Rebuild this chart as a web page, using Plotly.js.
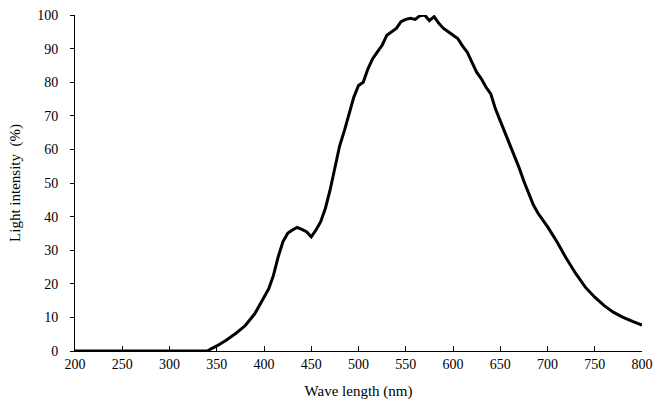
<!DOCTYPE html>
<html>
<head>
<meta charset="utf-8">
<script src="https://cdn.plot.ly/plotly-3.0.1.min.js"></script>
<style>
  html, body { margin: 0; padding: 0; background: #fff; }
  #chart { width: 660px; height: 404px; }
</style>
</head>
<body>
<div id="chart"></div>
<script>
const wavelength = [200, 250, 300, 340, 345, 350, 360, 370, 380, 390, 400, 405, 410, 415, 420, 425, 430, 435, 440, 445, 450, 455, 460, 465, 470, 475, 480, 485, 490, 495, 500, 505, 510, 515, 520, 525, 530, 535, 540, 545, 550, 555, 560, 565, 570, 575, 580, 585, 590, 595, 600, 605, 610, 615, 620, 625, 630, 635, 640, 645, 650, 655, 660, 665, 670, 675, 680, 685, 690, 695, 700, 710, 720, 730, 740, 750, 760, 770, 780, 790, 800];
const intensity = [0, 0, 0, 0, 0.8, 1.5, 3.2, 5.2, 7.5, 11, 16, 18.5, 22.5, 28, 32.5, 35, 36, 36.8, 36.2, 35.5, 34, 36, 38.5, 42.5, 48, 55, 61, 65.5, 70.5, 75.5, 79, 80, 84, 87, 89, 91, 94, 95, 96, 98, 98.7, 99, 98.7, 99.8, 100, 98.3, 99.5, 97.5, 96, 95, 94, 93, 90.8, 89, 86, 83, 81, 78.5, 76.5, 72, 68.5, 65, 62, 58, 54.5, 50.5, 47, 43.5, 41, 39, 37, 32.5, 27.5, 23, 19, 16, 13.5, 11.5, 10, 8.8, 7.7];
const xTicks = [200, 250, 300, 350, 400, 450, 500, 550, 600, 650, 700, 750, 800];
const yTicks = [0, 10, 20, 30, 40, 50, 60, 70, 80, 90, 100];

const family = 'Liberation Serif, Times New Roman, serif';
const tickFont = { family: family, size: 14, color: '#000' };
const titleFont = { family: family, size: 15, color: '#000' };

Plotly.newPlot('chart', [{
  x: wavelength,
  y: intensity,
  type: 'scatter',
  mode: 'lines',
  line: { color: '#000', width: 3, shape: 'linear' },
  hoverinfo: 'x+y'
}], {
  width: 660,
  height: 404,
  margin: { l: 75, r: 18, t: 15, b: 53 },
  paper_bgcolor: '#fff',
  plot_bgcolor: '#fff',
  font: tickFont,
  showlegend: false,
  xaxis: {
    range: [200, 800],
    tickvals: xTicks,
    ticktext: xTicks.map(String),
    ticks: 'inside',
    ticklen: 5,
    tickcolor: '#000',
    showline: true,
    linecolor: '#000',
    linewidth: 1,
    showgrid: false,
    zeroline: false,
    tickfont: tickFont,
    title: { text: 'Wave length (nm)', font: titleFont, standoff: 14 }
  },
  yaxis: {
    range: [0, 100],
    tickvals: yTicks,
    ticktext: yTicks.map(String),
    ticks: 'outside',
    ticklen: 4,
    tickcolor: '#000',
    showline: true,
    linecolor: '#000',
    linewidth: 1,
    showgrid: false,
    zeroline: false,
    tickfont: tickFont,
    ticklabelstandoff: 9,
    title: { text: 'Light intensity  (%)', font: titleFont, standoff: 12 }
  }
}, { displayModeBar: false, staticPlot: true });
</script>
</body>
</html>
